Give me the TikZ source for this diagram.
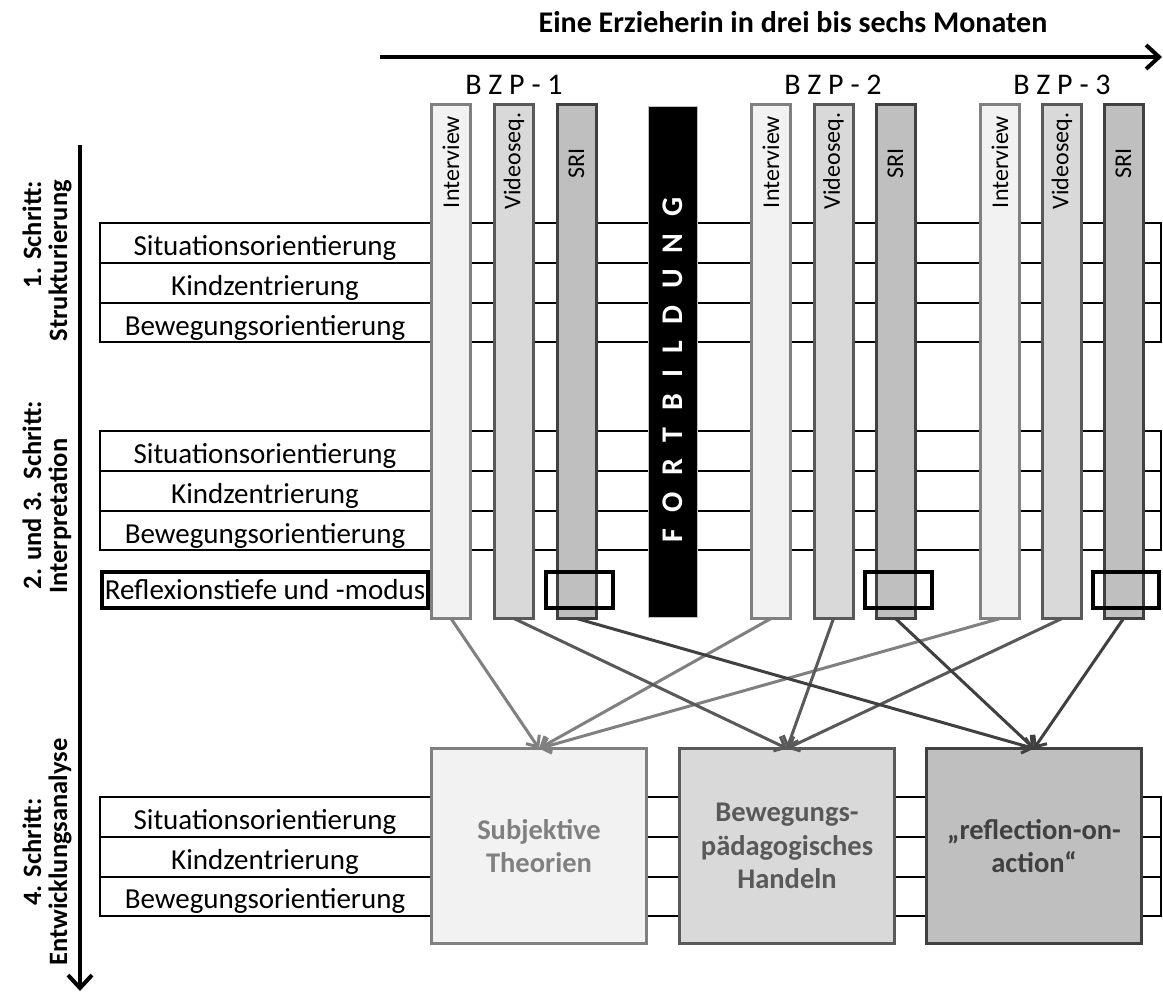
\documentclass[tikz,border=0pt]{standalone}
\usepackage{fontspec}
\setmainfont{Carlito}
\usetikzlibrary{arrows.meta}
\definecolor{fA}{HTML}{F2F2F2}
\definecolor{dA}{HTML}{808080}
\definecolor{fB}{HTML}{D9D9D9}
\definecolor{dB}{HTML}{595959}
\definecolor{fC}{HTML}{BFBFBF}
\definecolor{dC}{HTML}{404040}
\begin{document}
\begin{tikzpicture}[x=1pt,y=-1pt,
  rowline/.style={line width=2.5pt},
  rowtxt/.style={font=\fontsize{29pt}{34pt}\selectfont, anchor=base, inner sep=0pt},
  colbar/.style={line width=3pt, minimum width=39pt, minimum height=514pt, inner sep=0pt, outer sep=0pt, anchor=north},
  barA/.style={colbar, draw=dA, fill=fA},
  barB/.style={colbar, draw=dB, fill=fB},
  barC/.style={colbar, draw=dC, fill=fC},
  bartxt/.style={rotate=90, font=\fontsize{24pt}{28pt}\selectfont, inner sep=0pt},
  rframe/.style={draw=black, line width=4pt, inner sep=0pt, outer sep=0pt, minimum height=36pt},
  outbox/.style={line width=3pt, minimum width=215pt, minimum height=195pt, align=center, inner sep=0pt, outer sep=0pt, font=\bfseries\fontsize{28.5pt}{33.5pt}\selectfont},
  boxA/.style={outbox, draw=dA, fill=fA, text=dA},
  boxB/.style={outbox, draw=dB, fill=fB, text=dB},
  boxC/.style={outbox, draw=dC, fill=fC, text=dC},
  link/.style={line width=3pt, -{Straight Barb[length=9pt,width=16pt]}},
  linkA/.style={link, draw=dA},
  linkB/.style={link, draw=dB},
  linkC/.style={link, draw=dC},
  timearrow/.style={line width=4pt, -{Straight Barb[length=13pt,width=24pt]}},
  lbl/.style={rotate=90, font=\bfseries\fontsize{26.5pt}{30pt}\selectfont, inner sep=0pt},
  bzp/.style={font=\fontsize{30pt}{36pt}\selectfont, inner sep=0pt}
]
\useasboundingbox (0,0) rectangle (1163,994);
\fill[white] (0,0) rectangle (1163,994);

% title and time arrow
\node[font=\bfseries\fontsize{30pt}{36pt}\selectfont, inner sep=0pt] (title) at (793,22) {Eine Erzieherin in drei bis sechs Monaten};
\coordinate (tl) at (380,57);
\coordinate (tr) at (1162,57);
\draw[timearrow] (tl) -- (tr);

% step arrow on the left
\coordinate (vt) at (80,145);
\coordinate (vb) at (80,991);
\draw[timearrow] (vt) -- (vb);

% left step labels
\node[lbl, anchor=east] (l1a) at (32,181) {1. Schritt:};
\node[lbl, anchor=east] (l1b) at (60,180) {Strukturierung};
\node[lbl] (l2a) at (32,495) {2. und 3.\ \ Schritt:};
\node[lbl] (l2b) at (60,516) {Interpretation};
\node[lbl] (l4a) at (32,852) {4. Schritt:};
\node[lbl] (l4b) at (60,852) {Entwicklungsanalyse};

% row groups
\foreach \t in {223,431,797} {
  \draw[rowline] (100,\t) rectangle (1161,\t+119);
  \draw[rowline] (100,\t+40) -- (1161,\t+40);
  \draw[rowline] (100,\t+80) -- (1161,\t+80);
}
\node[rowtxt] (r11) at (265,255) {Situationsorientierung};
\node[rowtxt] (r12) at (265,295) {Kindzentrierung};
\node[rowtxt] (r13) at (265,335) {Bewegungsorientierung};
\node[rowtxt] (r21) at (265,463) {Situationsorientierung};
\node[rowtxt] (r22) at (265,503) {Kindzentrierung};
\node[rowtxt] (r23) at (265,543) {Bewegungsorientierung};
\node[rowtxt] (r41) at (265,829) {Situationsorientierung};
\node[rowtxt] (r42) at (265,869) {Kindzentrierung};
\node[rowtxt] (r43) at (265,908) {Bewegungsorientierung};

\node[rframe, minimum width=326pt, font=\fontsize{29pt}{34pt}\selectfont] (refl) at (265,590) {Reflexionstiefe und -modus};

% BZP labels
\node[bzp] (bzp1) at (514,85) {B Z P - 1};
\node[bzp] (bzp2) at (833,85) {B Z P - 2};
\node[bzp] (bzp3) at (1062,85) {B Z P - 3};

% bars
\node[barA] (i1) at (451,104.5) {};
\node[barB] (v1) at (514,104.5) {};
\node[barC] (s1) at (576.5,104.5) {};
\node[barA] (i2) at (771,104.5) {};
\node[barB] (v2) at (833.5,104.5) {};
\node[barC] (s2) at (895.5,104.5) {};
\node[barA] (i3) at (1000,104.5) {};
\node[barB] (v3) at (1062,104.5) {};
\node[barC] (s3) at (1123.5,104.5) {};

\node[bartxt] (ti1) at (451,162) {Interview};
\node[bartxt] (tv1) at (514,161) {Videoseq.};
\node[bartxt] (ts1) at (576.5,163) {SRI};
\node[bartxt] (ti2) at (771,162) {Interview};
\node[bartxt] (tv2) at (833.5,161) {Videoseq.};
\node[bartxt] (ts2) at (895.5,163) {SRI};
\node[bartxt] (ti3) at (1000,162) {Interview};
\node[bartxt] (tv3) at (1062,161) {Videoseq.};
\node[bartxt] (ts3) at (1123.5,163) {SRI};

% Fortbildung
\node[fill=black, draw=black!25, line width=1pt, minimum width=49pt, minimum height=511pt, inner sep=0pt, anchor=north] (fb) at (673,105.5) {};
\node[rotate=90, text=white, inner sep=0pt, font=\bfseries\fontsize{30pt}{36pt}\selectfont\addfontfeatures{LetterSpace=32}] (fbt) at (673,370) {F O R T B I L D U N G};

% reflexion frames over SRI bars
\node[rframe, minimum width=67pt] (rf1) at (579.5,590) {};
\node[rframe, minimum width=67pt] (rf2) at (898.5,590) {};
\node[rframe, minimum width=66pt] (rf3) at (1126,590) {};

% result boxes
\node[boxA] (b1) at (539,846) {Subjektive\\Theorien};
\node[boxB] (b2) at (787,846) {Bewegungs-\\pädagogisches\\Handeln};
\node[boxC] (b3) at (1034,846) {„reflection-on-\\action“};

% connectors
\draw[linkA] (i1.south) -- (b1.north);
\draw[linkA] (i2.south) -- (b1.north);
\draw[linkA] (i3.south) -- (b1.north);
\draw[linkB] (v1.south) -- (b2.north);
\draw[linkB] (v2.south) -- (b2.north);
\draw[linkB] (v3.south) -- (b2.north);
\draw[linkC] (s1.south) -- (b3.north);
\draw[linkC] (s2.south) -- (b3.north);
\draw[linkC] (s3.south) -- (b3.north);
\end{tikzpicture}
\end{document}
